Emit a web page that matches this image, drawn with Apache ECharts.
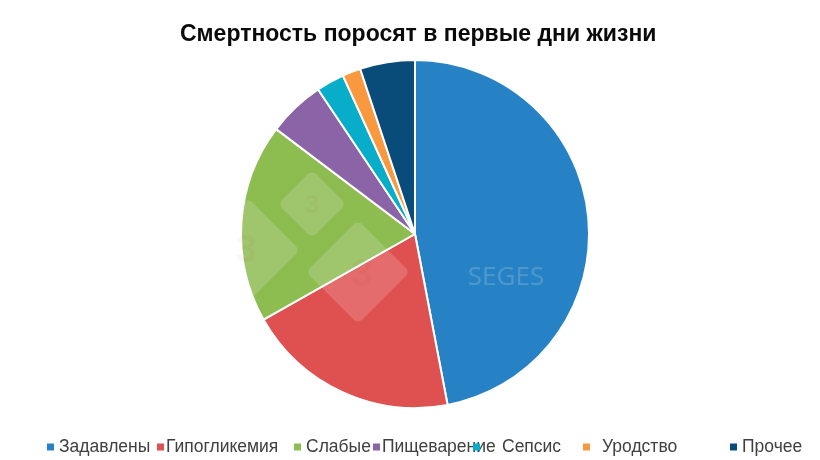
<!DOCTYPE html>
<html><head><meta charset="utf-8">
<script src="https://cdn.jsdelivr.net/npm/echarts@6/dist/echarts.min.js"></script>
<style>html,body{margin:0;padding:0;background:#fff}#c{width:820px;height:460px}</style>
</head><body><div id="c"></div>
<script>
const categories = ['Задавлены','Гипогликемия','Слабые','Пищеварение','Сепсис','Уродство','Прочее'];
const values = [47, 19.8, 18.5, 5.3, 2.6, 1.7, 5.1];
const colors = ['#2682C5','#DF5050','#8DBC50','#8A64A6','#08AEC9','#F8993F','#094C79'];
const titleText = 'Смертность поросят в первые дни жизни';

const legendLeft = [47, 157, 294, 373, 473, 583, 730];
const legendPad = [0, -3, 0, -3, 17, 7, 0];

const chart = echarts.init(document.getElementById('c'), null, {renderer:'canvas'});
const legends = categories.map((n,i)=>({
  data:[n], left: legendLeft[i], top: 438, icon:'rect', itemWidth:7, itemHeight:7,
  itemStyle:{borderWidth:0},
  selectedMode:false, padding:0,
  textStyle:{fontFamily:'Liberation Sans', fontSize:17.5, color:'#404040', padding:[0,0,0,legendPad[i]]}
}));
const cx=415, cy=234;
function diamond(x,y,h){
  return {type:'rect', x:x, y:y, rotation:Math.PI/4, originX:0, originY:0,
    shape:{x:-h/Math.SQRT2, y:-h/Math.SQRT2, width:h*Math.SQRT2, height:h*Math.SQRT2, r:6},
    style:{fill:'rgba(255,255,255,0.16)'}, silent:true, z:10};
}
function three(x,y,s){
  return {type:'text', x:x, y:y, style:{text:'3', fontSize:s, fontWeight:'bold', fontFamily:'Liberation Sans', fill:'rgba(140,40,20,0.045)', align:'center', verticalAlign:'middle'}, silent:true, z:11};
}
chart.setOption({
  animation:false,
  color: colors,
  title:{text:titleText, left:175, top:18, textStyle:{fontFamily:'Liberation Sans', fontSize:23, fontWeight:'bold', color:'#0a0a0a'}},
  legend: legends,
  series:[{type:'pie', center:[cx,cy], radius:[0,174], startAngle:90, clockwise:true,
    label:{show:false}, labelLine:{show:false},
    itemStyle:{borderColor:'#fff', borderWidth:2},
    data: categories.map((n,i)=>({name:n, value:values[i]}))}],
  graphic:[
    diamond(312,204,34), diamond(358,272,52), diamond(248,250,52),
    three(312,206,26), three(362,276,38), three(246,252,38),
    {type:'text', x:506, y:278, style:{text:'SEGES', fontFamily:'Source Sans Pro, Open Sans, sans-serif', fontSize:26, fill:'rgba(255,255,255,0.18)', align:'center', verticalAlign:'middle'}, silent:true, z:10}
  ]
});
</script></body></html>
